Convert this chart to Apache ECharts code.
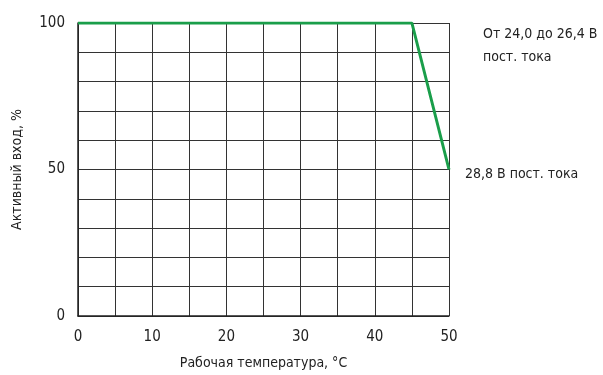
<!DOCTYPE html>
<html>
<head>
<meta charset="utf-8">
<script src="https://cdn.jsdelivr.net/npm/echarts@6/dist/echarts.min.js"></script>
<style>
  html, body { margin: 0; padding: 0; background: #fff; }
  #chart { width: 603px; height: 375px; }
</style>
</head>
<body>
<div id="chart"></div>
<script>
// рабочая температура, °C -> активный вход, %
const tempC = [0, 45, 50]
const inputPct = [100, 100, 50]
const noteTop = ['От 24,0 до 26,4 В', 'пост. тока']
const noteBottom = '28,8 В пост. тока'
const xName = 'Рабочая температура, °C'
const yName = 'Активный вход, %'

const font = '"Liberation Sans Narrow", "DejaVu Sans Condensed", sans-serif'
const gridColor = '#333'

const dom = echarts.init(document.getElementById('chart'))
const option = {
  animation: false,
  grid: { left: 78, top: 23, right: 154, bottom: 57 },
  textStyle: { fontFamily: font },
  xAxis: {
    type: 'value',
    min: 0,
    max: 50,
    interval: 5,
    name: xName,
    nameLocation: 'middle',
    nameGap: 40,
    nameTextStyle: { fontFamily: font, fontSize: 14, color: '#222' },
    axisLine: { lineStyle: { color: '#222', width: 1.5 } },
    axisTick: { show: false },
    axisLabel: {
      margin: 14,
      fontFamily: font,
      fontSize: 15,
      color: '#222',
      formatter: v => (v % 10 === 0 ? String(v) : '')
    },
    splitLine: { show: true, lineStyle: { color: gridColor, width: 1 } }
  },
  yAxis: {
    type: 'value',
    min: 0,
    max: 100,
    interval: 10,
    name: yName,
    nameLocation: 'middle',
    nameGap: 54,
    nameTextStyle: { fontFamily: font, fontSize: 14, color: '#222' },
    axisLine: { show: true, lineStyle: { color: '#222', width: 1.5 } },
    axisTick: { show: false },
    axisLabel: {
      margin: 13,
      fontFamily: font,
      fontSize: 15,
      color: '#222',
      formatter: v => (v % 50 === 0 ? String(v) : '')
    },
    splitLine: { show: true, lineStyle: { color: gridColor, width: 1 } }
  },
  graphic: [
    {
      type: 'text',
      left: 483,
      top: 23,
      style: {
        text: noteTop.join('\n'),
        font: '14px ' + font,
        fill: '#222',
        lineHeight: 23
      }
    }
  ],
  series: [
    {
      type: 'line',
      data: tempC.map((t, i) => [t, inputPct[i]]),
      symbol: 'none',
      lineStyle: { color: '#1a9e4a', width: 3 },
      z: 5,
      endLabel: {
        show: true,
        distance: 16,
        offset: [0, 5],
        fontFamily: font,
        fontSize: 14,
        color: '#222',
        formatter: () => noteBottom
      }
    }
  ]
}
dom.setOption(option)
</script>
</body>
</html>
